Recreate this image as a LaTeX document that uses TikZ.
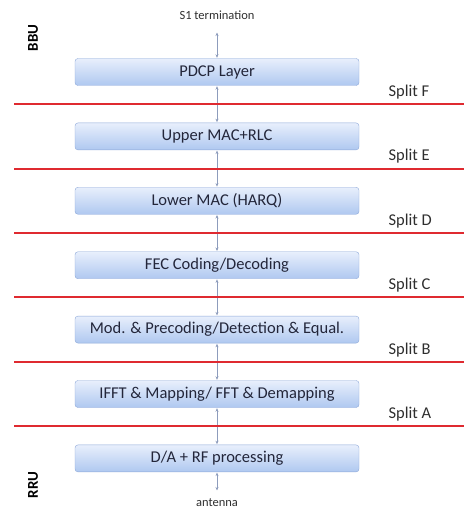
\documentclass[tikz,border=0pt]{standalone}
\usepackage{fontspec}
\setmainfont{Carlito}
\usetikzlibrary{positioning,arrows.meta,calc}
\definecolor{boxline}{HTML}{8DA8D8}
\definecolor{boxtop}{HTML}{E8EFFC}
\definecolor{boxbot}{HTML}{AFC8F0}
\definecolor{boxtext}{HTML}{23263A}
\definecolor{arrowc}{HTML}{8D9CBC}
\definecolor{splitred}{HTML}{DF2A30}
\definecolor{lbltext}{HTML}{2E2E2E}

\begin{document}
\begin{tikzpicture}[x=1pt,y=1pt,>={Stealth[length=3.5pt,width=3pt]},
  node distance=37pt,
  layer/.style={draw=boxline,rounded corners=3pt,top color=boxtop,bottom color=boxbot,
    minimum width=284pt,minimum height=27pt,inner sep=0pt,text=boxtext,
    font=\fontsize{16.5}{18}\selectfont},
  link/.style={<->,draw=arrowc,line width=0.6pt,shorten <=0.5pt,shorten >=0.5pt},
  cut/.style={draw=splitred,line width=2pt},
  splitlbl/.style={anchor=west,text=lbltext,font=\fontsize{16.5}{18}\selectfont},
  unit/.style={rotate=90,font=\bfseries\fontsize{15}{17}\selectfont},
  ext/.style={text=lbltext,font=\fontsize{12.5}{14}\selectfont}]
  \useasboundingbox (0,0) rectangle (464,-510);
  % protocol layers, BBU at top, RRU at bottom
  \node[layer] (pdcp) at (217,-72) {PDCP Layer};
  \node[layer,below=of pdcp] (umac) {Upper MAC+RLC};
  \node[layer,below=of umac] (lmac) {Lower MAC (HARQ)};
  \node[layer,below=of lmac] (fec) {FEC Coding/Decoding};
  \node[layer,below=of fec] (mod) {Mod. \& Precoding/Detection \& Equal.};
  \node[layer,below=of mod] (ifft) {IFFT \& Mapping/ FFT \& Demapping};
  \node[layer,below=of ifft] (rf) {D/A + RF processing};
  \node[unit] (bbu) at (33,-38) {BBU};
  \node[unit] (rru) at (33,-485) {RRU};
  % outer ends
  \node[ext] (s1) at (217,-15) {S1 termination};
  \node[ext] (ant) at (217,-503) {antenna};
  \coordinate (s1end) at (217,-32);
  \coordinate (antend) at (217,-491);
  \draw[link] (s1end) -- (pdcp);
  \draw[link] (pdcp) -- (umac); \draw[link] (umac) -- (lmac);
  \draw[link] (lmac) -- (fec);  \draw[link] (fec) -- (mod);
  \draw[link] (mod) -- (ifft);  \draw[link] (ifft) -- (rf);
  \draw[link] (rf) -- (antend);
  % split points
  \coordinate (lft) at (14,0); \coordinate (rgt) at (464,0);
  \coordinate (lblx) at (385,0);
  \coordinate (cF) at ($(pdcp.south)!0.5!(umac.north)$);
  \coordinate (cE) at ($(umac.south)!0.5!(lmac.north)$);
  \coordinate (cD) at ($(lmac.south)!0.5!(fec.north)$);
  \coordinate (cC) at ($(fec.south)!0.5!(mod.north)$);
  \coordinate (cB) at ($(mod.south)!0.5!(ifft.north)$);
  \coordinate (cA) at ($(ifft.south)!0.5!(rf.north)$);
  \draw[cut] (lft |- cF) -- (rgt |- cF);
  \draw[cut] (lft |- cE) -- (rgt |- cE);
  \draw[cut] (lft |- cD) -- (rgt |- cD);
  \draw[cut] (lft |- cC) -- (rgt |- cC);
  \draw[cut] (lft |- cB) -- (rgt |- cB);
  \draw[cut] (lft |- cA) -- (rgt |- cA);
  \node[splitlbl] (sF) at ($(lblx |- cF)+(0,12)$) {Split F};
  \node[splitlbl] (sE) at ($(lblx |- cE)+(0,12)$) {Split E};
  \node[splitlbl] (sD) at ($(lblx |- cD)+(0,12)$) {Split D};
  \node[splitlbl] (sC) at ($(lblx |- cC)+(0,12)$) {Split C};
  \node[splitlbl] (sB) at ($(lblx |- cB)+(0,12)$) {Split B};
  \node[splitlbl] (sA) at ($(lblx |- cA)+(0,12)$) {Split A};
\end{tikzpicture}
\end{document}
